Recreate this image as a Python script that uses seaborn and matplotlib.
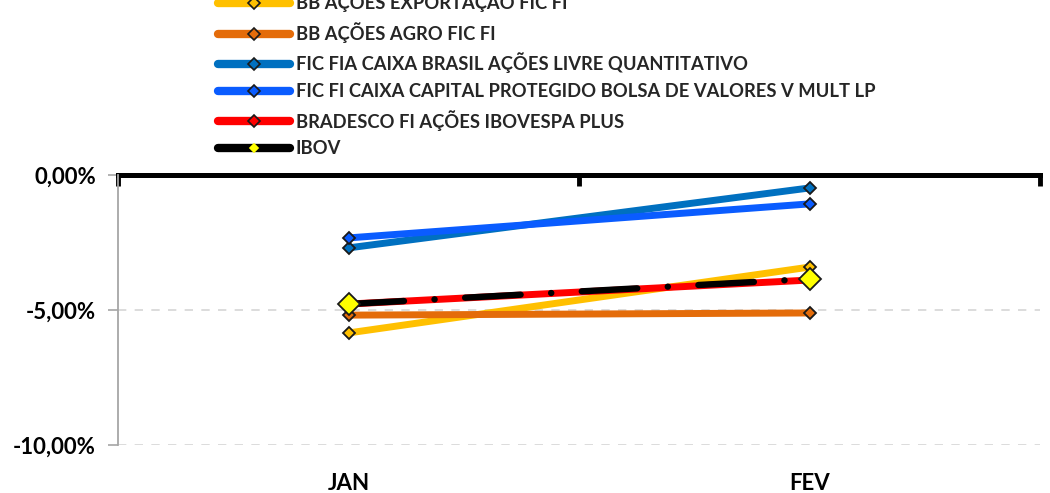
import matplotlib
matplotlib.use("Agg")
import matplotlib.pyplot as plt
import seaborn as sns
import pandas as pd
from matplotlib.ticker import FuncFormatter, FixedLocator
from matplotlib.lines import Line2D

sns.set_theme(style="white")
plt.rcParams['font.family'] = ['Lato', 'DejaVu Sans']
plt.rcParams['font.weight'] = 'bold'
plt.rcParams['lines.scale_dashes'] = False

months = ["JAN", "FEV"]
series = [
    "BB AÇÕES EXPORTAÇÃO FIC FI",
    "BB AÇÕES AGRO FIC FI",
    "FIC FIA CAIXA BRASIL AÇÕES LIVRE QUANTITATIVO",
    "FIC FI CAIXA CAPITAL PROTEGIDO BOLSA DE VALORES V MULT LP",
    "BRADESCO FI AÇÕES IBOVESPA PLUS",
    "IBOV",
]
bb_export = [-5.85, -3.41]
bb_agro = [-5.19, -5.11]
caixa_livre = [-2.70, -0.48]
caixa_capital = [-2.33, -1.07]
bradesco = [-4.78, -3.89]
ibov = [-4.78, -3.85]
values = [bb_export, bb_agro, caixa_livre, caixa_capital, bradesco, ibov]

colors = ["#FFC000", "#E46C0A", "#0070C0", "#0A5CFF", "#FF0000", "#000000"]
marker_face = ["#FFC000", "#E46C0A", "#0070C0", "#0A5CFF", "#FF0000", "#FFFF00"]

fig = plt.figure(figsize=(10.5, 4.93), dpi=100)
ax = fig.add_axes([118/1050, 1-445/493, (1040-118)/1050, 270/493])

handles = []
for i, (name, vals) in enumerate(zip(series, values)):
    df = pd.DataFrame({"Mês": months, "Valor": vals})
    is_ibov = name == "IBOV"
    sns.lineplot(data=df, x="Mês", y="Valor", ax=ax, color=colors[i],
                 linewidth=5.0 if not is_ibov else 4.6,
                 linestyle=(0, (40, 22, 0.1, 22)) if is_ibov else "-",
                 marker="D", markersize=11 if is_ibov else 6.5,
                 markerfacecolor=marker_face[i], markeredgecolor="#1a1a1a",
                 markeredgewidth=1.3, zorder=3 + i,
                 solid_capstyle="round", dash_capstyle="round")
    handles.append(Line2D([], [], color=colors[i], linewidth=6.0,
                          solid_capstyle="round", marker="D",
                          markersize=4.5 if is_ibov else 6,
                          markerfacecolor=marker_face[i],
                          markeredgecolor=marker_face[i] if is_ibov else "#1a1a1a",
                          markeredgewidth=1.2, label=name))

ax.set_xlim(-0.5, 1.5)
ax.set_ylim(-10, 0)
ax.set_xlabel("")
ax.set_ylabel("")

# y axis
ax.yaxis.set_major_locator(FixedLocator([-10, -5, 0]))
ax.yaxis.set_major_formatter(FuncFormatter(lambda v, p: f"{v:.2f}%".replace(".", ",")))
ax.tick_params(axis="y", which="major", left=True, length=7, width=1.2,
               color="#A6A6A6", labelsize=16, pad=9, labelcolor="black")
for lab in ax.get_yticklabels():
    lab.set_fontweight("bold")
ax.grid(axis="y", color="#D9D9D9", linestyle=(0, (6, 6)), linewidth=1.3)
ax.grid(axis="x", visible=False)

# x axis: labels low, category axis line at top
ax.xaxis.set_major_locator(FixedLocator([0, 1]))
ax.xaxis.set_minor_locator(FixedLocator([-0.5, 0.5, 1.5]))
ax.tick_params(axis="x", which="major", bottom=False, top=False, labelsize=16,
               pad=14, labelcolor="black")
ax.tick_params(axis="x", which="minor", bottom=False, top=True, direction="in",
               length=8, width=3.5, color="black")
for lab in ax.get_xticklabels():
    lab.set_fontweight("bold")

for s in ["bottom", "right"]:
    ax.spines[s].set_visible(False)
ax.spines["left"].set_color("#A6A6A6")
ax.spines["left"].set_linewidth(1.3)
ax.spines["top"].set_color("black")
ax.spines["top"].set_linewidth(3.6)
ax.spines["top"].set_zorder(2)

leg = fig.legend(handles=handles, loc="center left",
                 bbox_to_anchor=(218/1050, 1-74.5/493),
                 bbox_transform=fig.transFigure, frameon=False, borderpad=0,
                 borderaxespad=0, handlelength=3.9, handletextpad=0.33,
                 labelspacing=0.53, prop={"weight": "bold", "size": 13.2})

fig.savefig("out.png", dpi=100)
